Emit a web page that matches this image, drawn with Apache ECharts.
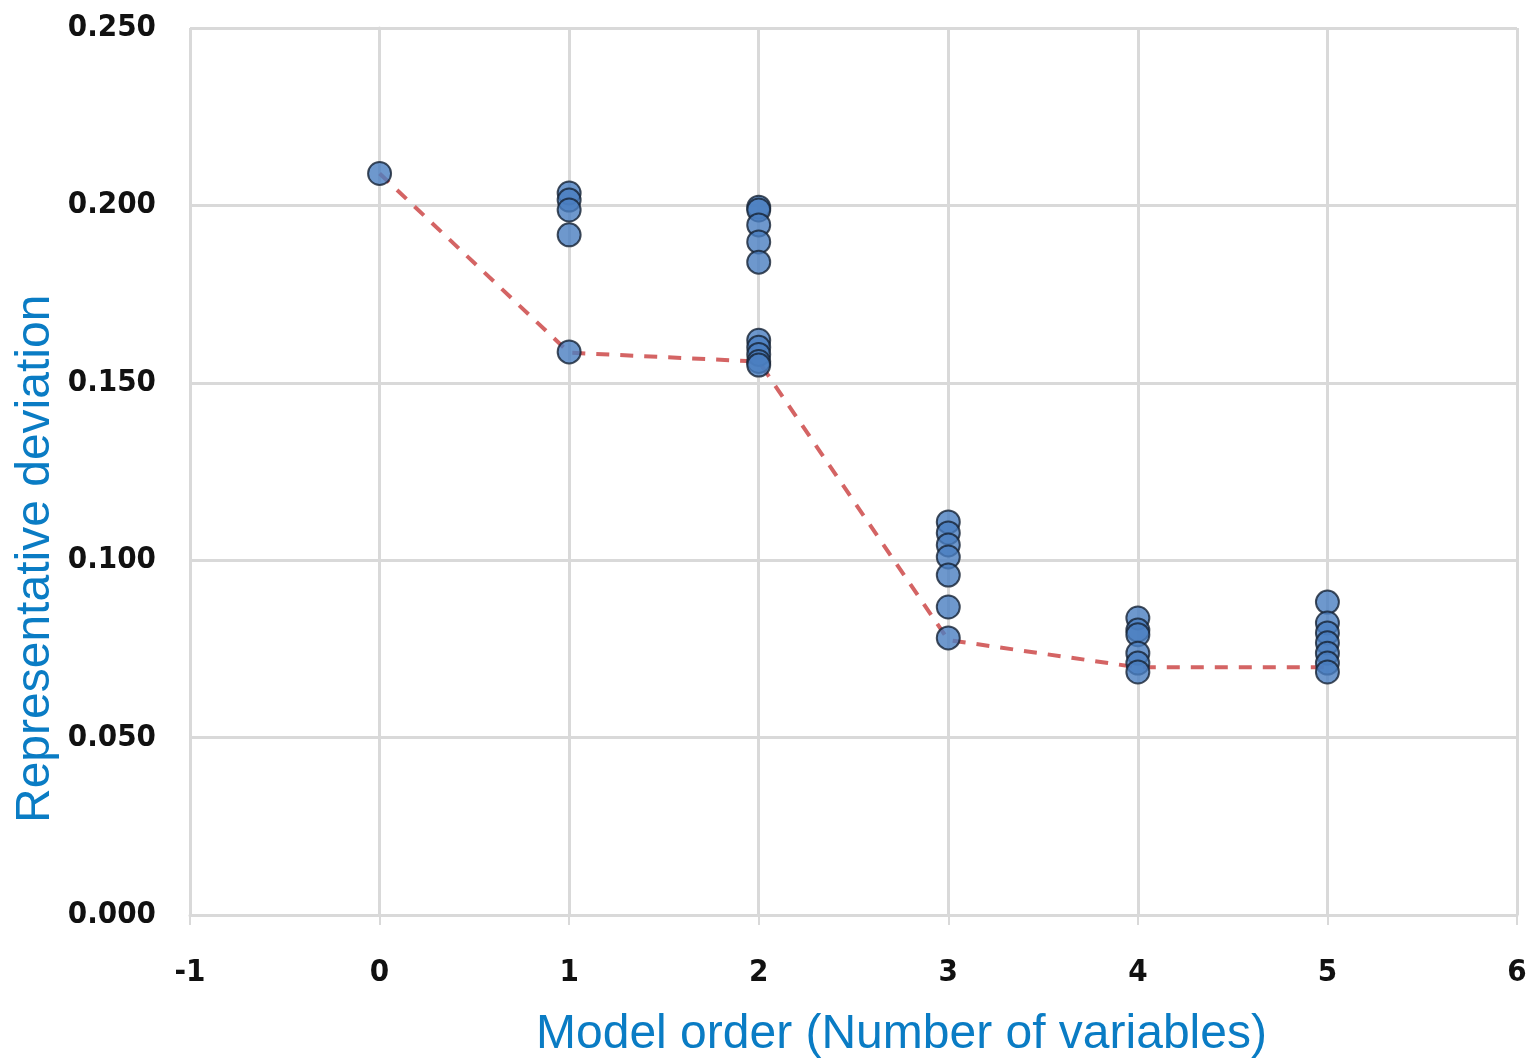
<!DOCTYPE html>
<html><head><meta charset="utf-8">
<script src="https://cdn.jsdelivr.net/npm/echarts@6/dist/echarts.min.js"></script>
<style>html,body{margin:0;padding:0;background:#fff}#c{width:1534px;height:1062px}</style>
</head><body><div id="c"></div>
<script>
// Model order (x) and representative deviation (y) for every candidate model
const order0 = [0.209];
const order1 = [0.2035, 0.2015, 0.1987, 0.1917, 0.1587];
const order2 = [0.1995, 0.1987, 0.1945, 0.1897, 0.1840, 0.1620, 0.1600, 0.1580, 0.1560, 0.1550];
const order3 = [0.1108, 0.1077, 0.1043, 0.1009, 0.0958, 0.0868, 0.0781];
const order4 = [0.0837, 0.0803, 0.0790, 0.0738, 0.0710, 0.0685];
const order5 = [0.0882, 0.0823, 0.0795, 0.0767, 0.0738, 0.0710, 0.0685];
// best model per order (dashed line)
const bestOrders = [0, 1, 2, 3, 4, 5];
const bestValues = [0.209, 0.1585, 0.156, 0.0775, 0.0698, 0.0698];

const groups = [order0, order1, order2, order3, order4, order5];
const scatterData = [];
groups.forEach((g, i) => g.forEach(v => scatterData.push([i, v])));
const lineData = bestOrders.map((o, i) => [o, bestValues[i]]);

const chart = echarts.init(document.getElementById('c'));
const labelFont = {color: '#111', fontFamily: 'DejaVu Sans Condensed', fontWeight: 'bold', fontSize: 31};
chart.setOption({
  animation: false,
  grid: {left: 190, right: 17, top: 28, bottom: 147},
  xAxis: {
    type: 'value', min: -1, max: 6, interval: 1,
    axisLine: {show: true, onZero: false, lineStyle: {color: '#d9d9d9', width: 3}},
    axisTick: {show: true, length: 10, lineStyle: {color: '#d9d9d9', width: 2}},
    splitLine: {show: true, lineStyle: {color: '#d9d9d9', width: 3}},
    axisLabel: Object.assign({margin: 42}, labelFont)
  },
  yAxis: {
    type: 'value', min: 0, max: 0.25, interval: 0.05,
    axisLine: {show: true, lineStyle: {color: '#d9d9d9', width: 3}},
    axisTick: {show: true, length: 10, lineStyle: {color: '#d9d9d9', width: 2}},
    splitLine: {show: true, lineStyle: {color: '#d9d9d9', width: 3}},
    axisLabel: Object.assign({margin: 34, formatter: v => v.toFixed(3)}, labelFont)
  },
  graphic: [
    {type: 'text', left: 536, top: 1011, style: {text: 'Model order (Number of variables)', fill: '#0a7cc4', font: '48px Arial'}},
    {type: 'text', x: 12, y: 823, rotation: Math.PI / 2, style: {text: 'Representative deviation', fill: '#0a7cc4', font: '48px Arial'}}
  ],
  series: [
    {type: 'line', data: lineData, symbol: 'none', z: 2,
     lineStyle: {color: '#d46464', width: 4, type: [13, 11]}},
    {type: 'scatter', data: scatterData, symbol: 'circle', symbolSize: 23, z: 3,
     itemStyle: {color: '#4a7ec0', borderColor: '#162334', borderWidth: 2}}
  ]
});
</script></body></html>
